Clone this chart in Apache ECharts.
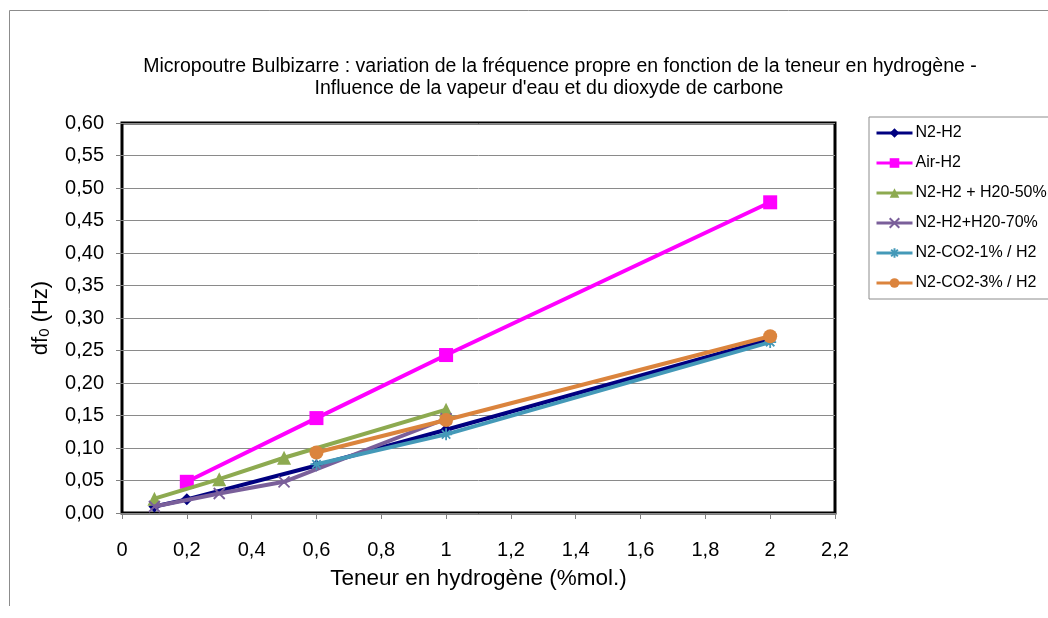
<!DOCTYPE html>
<html>
<head>
<meta charset="utf-8">
<script src="https://cdn.jsdelivr.net/npm/echarts@6/dist/echarts.min.js"></script>
<style>
  html, body { margin: 0; padding: 0; background: #fff; }
  #chart { width: 1048px; height: 618px; }
</style>
</head>
<body>
<div id="chart"></div>
<script>
// Hydrogen content (%mol.) and frequency shift df0 (Hz) for each gas mixture
const xN2H2 = [0.1, 0.2, 0.6, 1, 2];
const yN2H2 = [0.010, 0.021, 0.073, 0.128, 0.267];

const xAirH2 = [0.2, 0.6, 1, 2];
const yAirH2 = [0.048, 0.146, 0.243, 0.478];

const xH2O50 = [0.1, 0.3, 0.5, 1];
const yH2O50 = [0.022, 0.052, 0.085, 0.159];

const xH2O70 = [0.1, 0.3, 0.5, 1];
const yH2O70 = [0.010, 0.030, 0.048, 0.145];

const xCO2a = [0.6, 1, 2];
const yCO2a = [0.075, 0.121, 0.263];

const xCO2b = [0.6, 1, 2];
const yCO2b = [0.093, 0.143, 0.272];

const seriesNames = ['N2-H2', 'Air-H2', 'N2-H2 + H20-50%', 'N2-H2+H20-70%', 'N2-CO2-1% / H2', 'N2-CO2-3% / H2'];
const seriesColors = ['#000080', '#FF00FF', '#8DAA50', '#7A5F9A', '#4499B8', '#DB843D'];

const titleLine1 = 'Micropoutre Bulbizarre : variation de la fréquence propre en fonction de la teneur en hydrogène -';
const titleLine2 = 'Influence de la vapeur d\'eau et du dioxyde de carbone';

const FONT = '"Liberation Sans", Arial, sans-serif';

const pairs = (xs, ys) => xs.map((x, i) => [x, ys[i]]);

const crossPath = 'path://M0,0L10,10M10,0L0,10';
const starPath = 'path://M5,0L5,10M0,5L10,5M1.5,1.5L8.5,8.5M8.5,1.5L1.5,8.5';

function makeSeries(idx, xs, ys, symbol, size, stroked) {
  const c = seriesColors[idx];
  return {
    name: seriesNames[idx],
    type: 'line',
    data: pairs(xs, ys),
    symbol: symbol,
    symbolSize: size,
    showAllSymbol: true,
    lineStyle: { color: c, width: 4 },
    itemStyle: stroked
      ? { color: 'rgba(0,0,0,0)', borderColor: c, borderWidth: 1.8 }
      : { color: c, borderColor: c, borderWidth: 0 },
    emphasis: { disabled: true },
    animation: false,
    z: 2 + idx
  };
}

const chart = echarts.init(document.getElementById('chart'), null, { renderer: 'canvas' });

chart.setOption({
  backgroundColor: '#ffffff',
  animation: false,
  textStyle: { fontFamily: FONT },
  grid: {
    left: 122, right: 213, top: 123, bottom: 105,
    show: true, borderColor: '#000', borderWidth: 3, backgroundColor: 'transparent'
  },
  graphic: [
    {
      type: 'polyline',
      shape: { points: [[9.5, 606], [9.5, 10.5], [1048, 10.5]] },
      style: { stroke: '#8c8c8c', lineWidth: 1, fill: null },
      silent: true
    },
    {
      type: 'text',
      x: 560, y: 56,
      style: { text: titleLine1, font: '19.5px ' + FONT, fill: '#000', textAlign: 'center', lineHeight: 22 },
      silent: true
    },
    {
      type: 'text',
      x: 549, y: 78,
      style: { text: titleLine2, font: '19.5px ' + FONT, fill: '#000', textAlign: 'center', lineHeight: 22 },
      silent: true
    }
  ],
  legend: {
    orient: 'vertical',
    left: 869, top: 117,
    width: 200,
    padding: [8, 40, 8, 6],
    backgroundColor: '#fff',
    borderColor: '#8c8c8c',
    borderWidth: 1,
    borderRadius: 0,
    itemWidth: 36,
    itemHeight: 12,
    itemGap: 14,
    lineStyle: { width: 3 },
    textStyle: { fontFamily: FONT, fontSize: 16, lineHeight: 16, color: '#000', padding: [0, 0, 0, -2] },
    data: seriesNames
  },
  xAxis: {
    type: 'value',
    min: 0, max: 2.2, interval: 0.2,
    name: 'Teneur en hydrogène (%mol.)',
    nameLocation: 'middle',
    nameGap: 54,
    nameTextStyle: { fontFamily: FONT, fontSize: 22.5, color: '#000' },
    axisLine: { show: false },
    axisTick: { show: true, inside: false, length: 6, lineStyle: { color: '#808080', width: 1 } },
    axisLabel: {
      fontFamily: FONT, fontSize: 20, color: '#000', margin: 27,
      formatter: v => String(Math.round(v * 10) / 10).replace('.', ',')
    },
    splitLine: { show: false }
  },
  yAxis: {
    type: 'value',
    min: 0, max: 0.6, interval: 0.05,
    name: '{a|df}{b|0}{a| (Hz)}',
    nameLocation: 'middle',
    nameGap: 70,
    nameRotate: 90,
    nameTextStyle: {
      color: '#000',
      rich: {
        a: { fontFamily: FONT, fontSize: 22, color: '#000', verticalAlign: 'bottom', lineHeight: 26 },
        b: { fontFamily: FONT, fontSize: 15, color: '#000', verticalAlign: 'bottom', lineHeight: 20 }
      }
    },
    axisLine: { show: false },
    axisTick: { show: true, inside: false, length: 6, lineStyle: { color: '#808080', width: 1 } },
    axisLabel: {
      fontFamily: FONT, fontSize: 20, color: '#000', margin: 18,
      formatter: v => v.toFixed(2).replace('.', ',')
    },
    splitLine: { show: true, lineStyle: { color: '#8a8a8a', width: 1 } }
  },
  series: [
    makeSeries(0, xN2H2, yN2H2, 'diamond', 12, false),
    makeSeries(1, xAirH2, yAirH2, 'rect', 14, false),
    makeSeries(2, xH2O50, yH2O50, 'triangle', 14, false),
    makeSeries(3, xH2O70, yH2O70, crossPath, 11, true),
    makeSeries(4, xCO2a, yCO2a, starPath, 12, true),
    makeSeries(5, xCO2b, yCO2b, 'circle', 14, false)
  ]
});
</script>
</body>
</html>
